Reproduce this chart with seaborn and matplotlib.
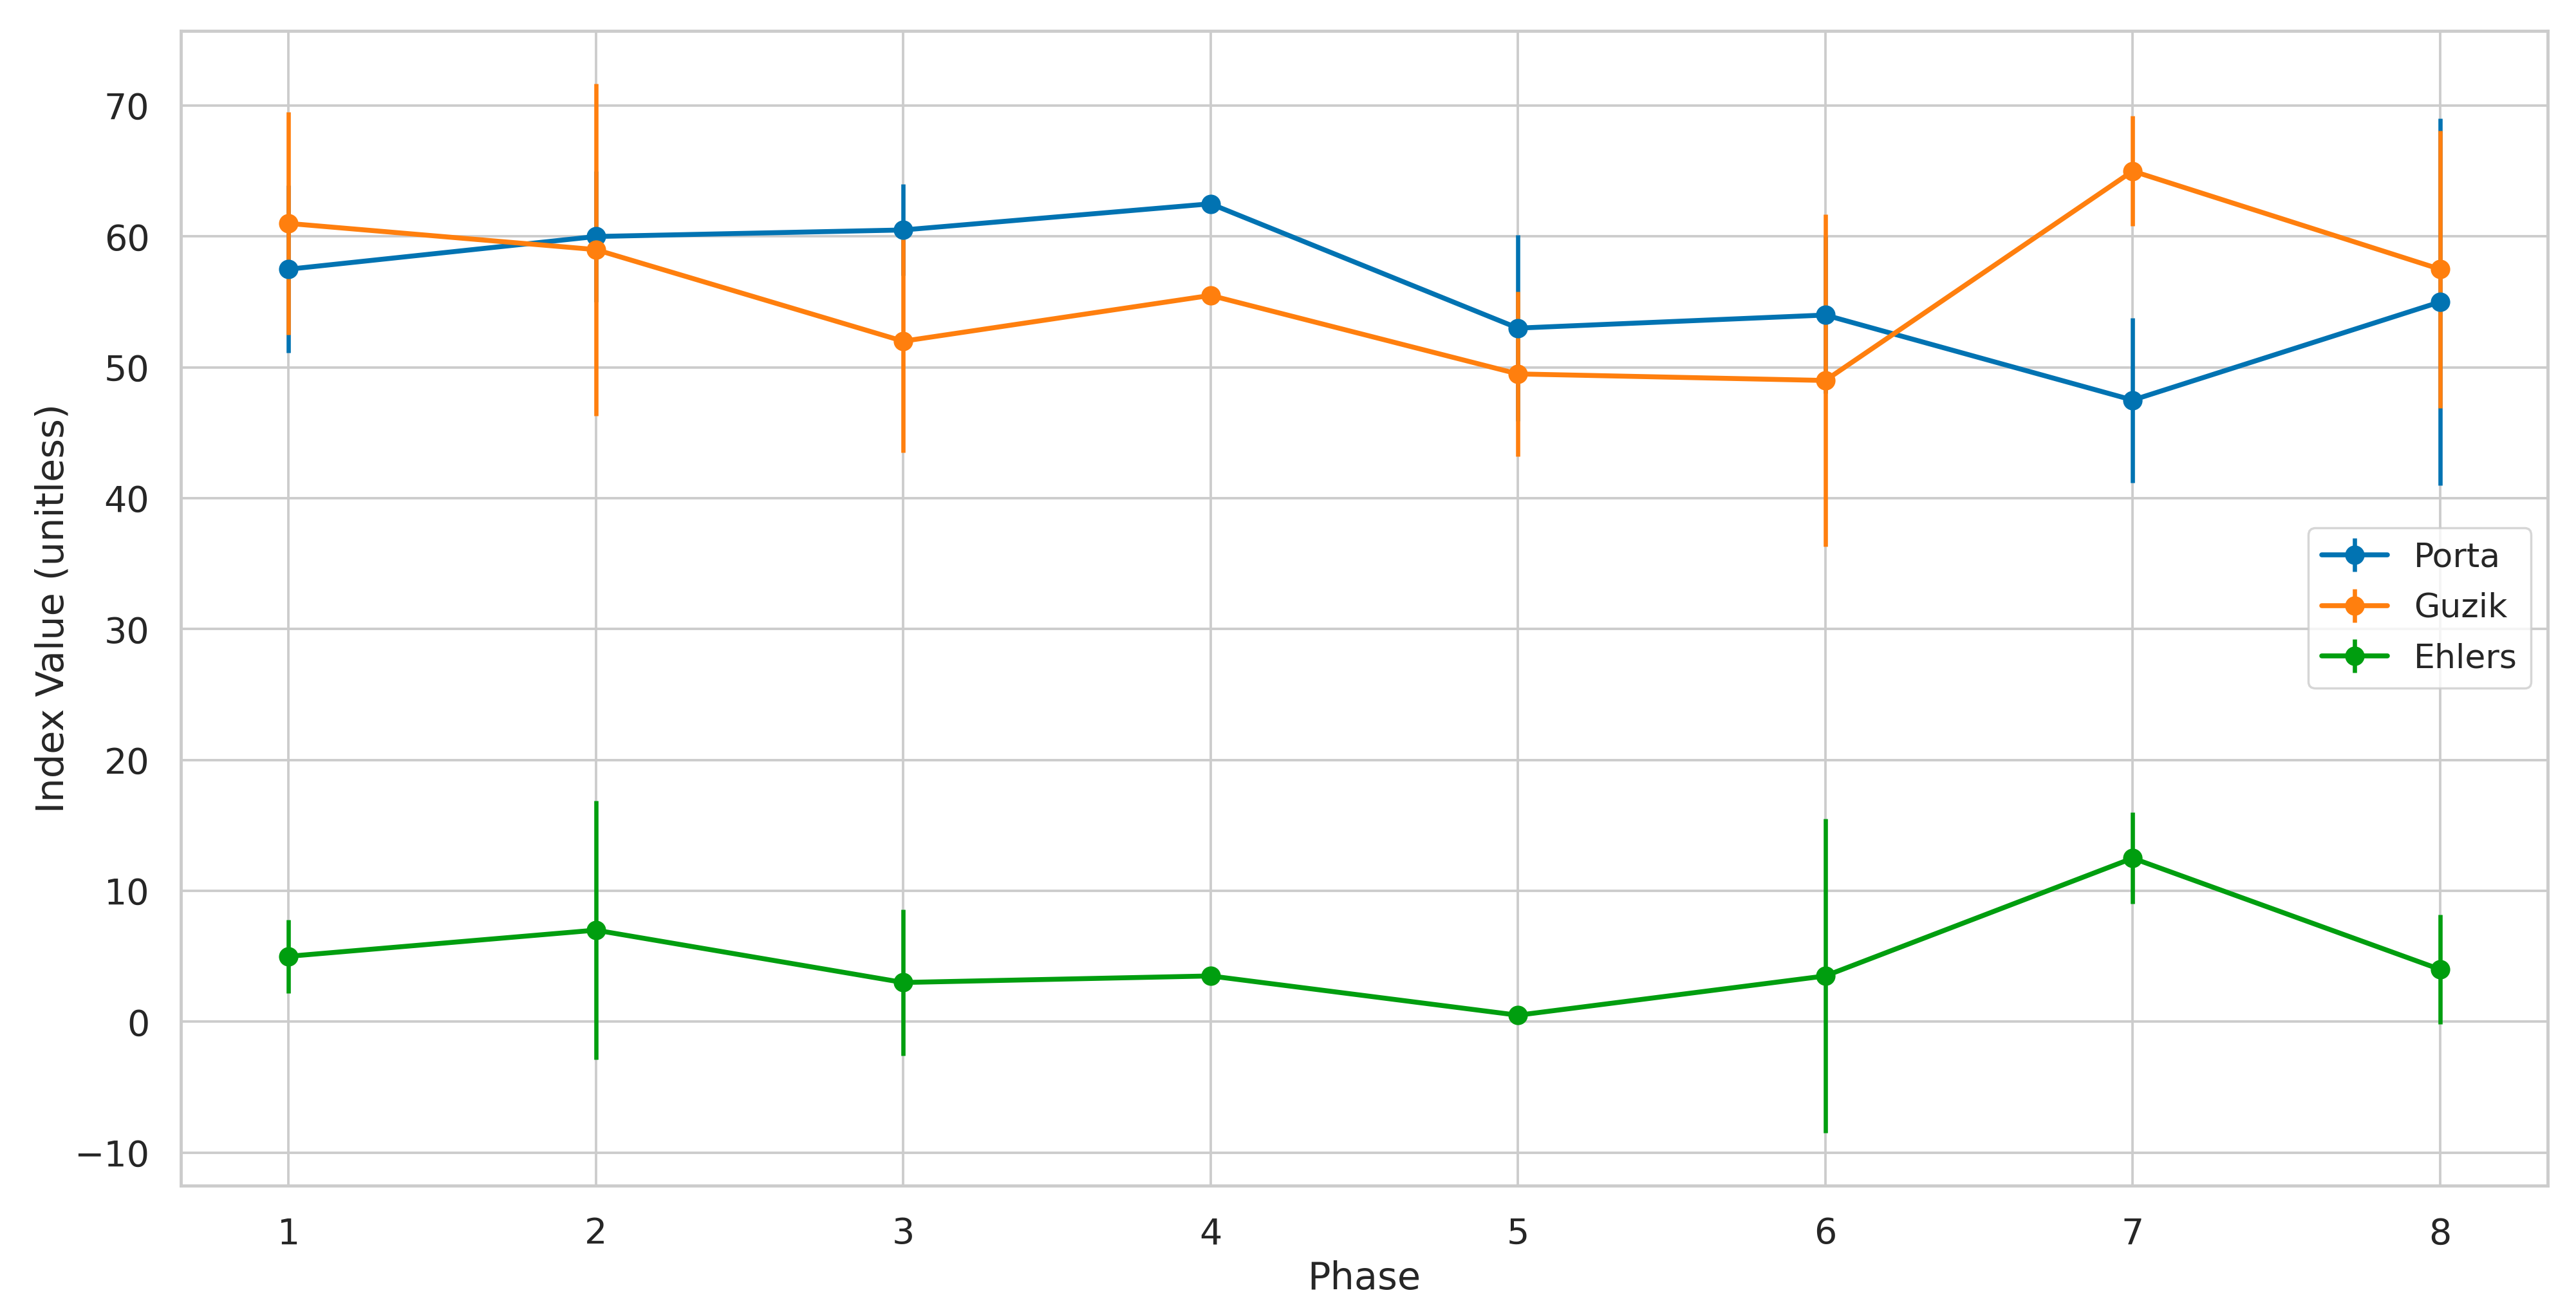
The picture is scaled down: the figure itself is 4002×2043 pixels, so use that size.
import numpy as np
import pandas as pd
import matplotlib
matplotlib.use("Agg")
import matplotlib.pyplot as plt
import seaborn as sns

# ---- data ----
phases = [1, 2, 3, 4, 5, 6, 7, 8]
series_names = ["Porta", "Guzik", "Ehlers"]
porta_mean = [57.5, 60.0, 60.5, 62.5, 53.0, 54.0, 47.5, 55.0]
porta_err = [6.4, 5.0, 3.5, 0.0, 7.1, 6.0, 6.3, 14.0]
guzik_mean = [61.0, 59.0, 52.0, 55.5, 49.5, 49.0, 65.0, 57.5]
guzik_err = [8.5, 12.7, 8.5, 0.0, 6.3, 12.7, 4.2, 10.6]
ehlers_mean = [5.0, 7.0, 3.0, 3.5, 0.5, 3.5, 12.5, 4.0]
ehlers_err = [2.8, 9.9, 5.6, 0.0, 0.0, 12.0, 3.5, 4.2]
colors = ["#0173B2", "#FF7F0E", "#009E0F"]

means = [porta_mean, guzik_mean, ehlers_mean]
errs = [porta_err, guzik_err, ehlers_err]

sns.set_theme(style="whitegrid")
plt.rcParams["font.family"] = ["DejaVu Sans"]
plt.rcParams["xtick.major.pad"] = 8
plt.rcParams["ytick.major.pad"] = 8

fig = plt.figure(figsize=(4002 / 250, 2043 / 250), dpi=250)
ax = fig.add_subplot(111)
fig.subplots_adjust(left=0.0702, right=0.989, bottom=0.0985, top=0.9765)

for name, m, e, c in zip(series_names, means, errs, colors):
    df = pd.DataFrame({"Phase": phases, "val": m, "err": e})
    ax.errorbar(df["Phase"], df["val"], yerr=df["err"], marker="o",
                color=c, label=name, linewidth=2.2, elinewidth=1.9,
                markersize=7.7)

ax.set_xlabel("Phase", fontsize=17)
ax.set_ylabel("Index Value (unitless)", fontsize=17, labelpad=1.5)
ax.tick_params(axis="both", labelsize=16)
for sp in ax.spines.values():
    sp.set_linewidth(1.4)
ax.grid(linewidth=1.1)
ax.legend(loc="center right", fontsize=15, handlelength=1.95, labelspacing=0.55)

fig.savefig("out.png", dpi=250)
